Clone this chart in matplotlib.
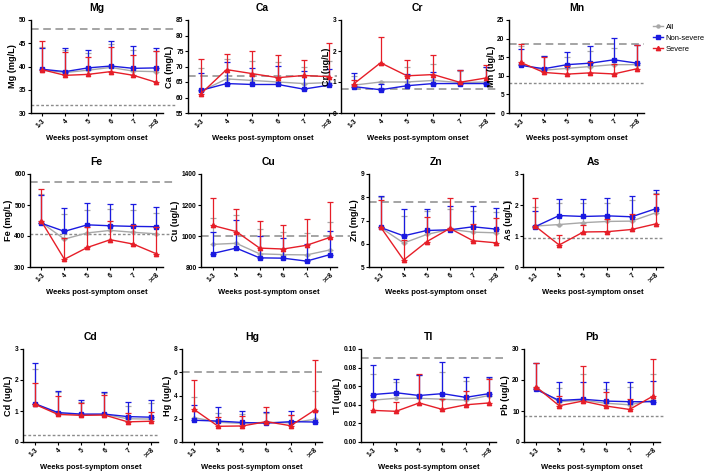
import numpy as np
import matplotlib
matplotlib.use("Agg")
import matplotlib.pyplot as plt
from matplotlib.lines import Line2D

plt.rcParams['font.family'] = ['Liberation Sans', 'DejaVu Sans']

weeks = ["1-3", "4", "5", "6", "7", ">=8"]

# ---- data (mean and upper error-bar end) ----
mg_all = [39.3, 38.7, 39.2, 39.8, 39.0, 38.9]
mg_all_top = [44.3, 43.5, 43.0, 44.9, 43.6, 43.4]
mg_ns = [39.4, 38.9, 39.7, 40.1, 39.6, 39.7]
mg_ns_top = [43.9, 43.9, 43.6, 45.4, 44.4, 43.9]
mg_sv = [39.3, 38.1, 38.3, 38.9, 38.1, 36.6]
mg_sv_top = [45.4, 43.1, 42.0, 44.3, 42.4, 43.4]

ca_all = [62.0, 66.0, 65.5, 65.0, 64.5, 64.8]
ca_all_top = [69.4, 72.5, 71.8, 71.5, 70.0, 71.9]
ca_ns = [62.3, 64.5, 64.2, 64.2, 62.7, 64.0]
ca_ns_top = [68.0, 71.5, 69.5, 70.2, 68.6, 69.2]
ca_sv = [61.2, 69.0, 67.7, 66.4, 67.1, 66.7]
ca_sv_top = [72.3, 73.9, 75.0, 73.7, 72.1, 77.7]

cr_all = [0.90, 1.00, 1.00, 1.05, 0.98, 1.00]
cr_all_top = [1.20, 1.00, 1.50, 1.57, 1.37, 1.50]
cr_ns = [0.85, 0.75, 0.88, 0.95, 0.95, 0.95]
cr_ns_top = [1.30, 0.95, 1.27, 1.32, 1.38, 1.50]
cr_sv = [0.95, 1.62, 1.20, 1.24, 0.99, 1.13]
cr_sv_top = [1.05, 2.46, 1.71, 1.87, 1.38, 1.54]

mn_all = [13.2, 11.5, 12.0, 12.5, 13.0, 13.0]
mn_all_top = [18.0, 15.3, 15.0, 16.8, 17.5, 18.2]
mn_ns = [12.8, 11.9, 13.0, 13.4, 14.3, 13.4]
mn_ns_top = [17.3, 15.45, 16.35, 18.1, 20.05, 18.25]
mn_sv = [13.6, 10.9, 10.45, 10.8, 10.5, 11.9]
mn_sv_top = [18.5, 15.0, 12.6, 13.8, 13.3, 18.2]

fe_all = [443, 390, 410, 418, 412, 407]
fe_all_top = [535, 472, 484, 487, 485, 475]
fe_ns = [441, 415, 436, 433, 431, 430]
fe_ns_top = [533, 490, 505, 503, 503, 493]
fe_sv = [447, 325, 363, 388, 374, 343]
fe_sv_top = [553, 392, 430, 447, 435, 428]

cu_all = [946, 953, 885, 880, 878, 910]
cu_all_top = [1118, 1133, 1043, 1023, 1022, 1090]
cu_ns = [887, 922, 859, 857, 838, 880]
cu_ns_top = [1026, 1106, 1000, 990, 950, 1033]
cu_sv = [1068, 1029, 922, 916, 940, 991]
cu_sv_top = [1247, 1177, 1097, 1071, 1110, 1218]

zn_all = [6.70, 6.03, 6.40, 6.62, 6.50, 6.47]
zn_all_top = [8.00, 7.20, 7.40, 7.50, 7.42, 7.35]
zn_ns = [6.70, 6.34, 6.57, 6.60, 6.73, 6.63]
zn_ns_top = [8.06, 7.50, 7.50, 7.61, 7.62, 7.52]
zn_sv = [6.72, 5.30, 6.09, 6.66, 6.13, 6.04]
zn_sv_top = [7.90, 6.17, 7.17, 7.96, 6.86, 7.09]

as_all = [1.32, 1.37, 1.43, 1.47, 1.48, 1.75]
as_all_top = [1.95, 2.05, 2.05, 2.08, 2.15, 2.40]
as_ns = [1.30, 1.66, 1.63, 1.65, 1.62, 1.88]
as_ns_top = [1.81, 2.19, 2.20, 2.23, 2.29, 2.48]
as_sv = [1.32, 0.71, 1.13, 1.14, 1.21, 1.39]
as_sv_top = [2.21, 1.02, 1.35, 1.55, 1.70, 2.34]

cd_all = [1.23, 0.92, 0.88, 0.89, 0.75, 0.74]
cd_all_top = [2.35, 1.60, 1.30, 1.57, 1.15, 1.25]
cd_ns = [1.24, 0.95, 0.90, 0.90, 0.82, 0.80]
cd_ns_top = [2.56, 1.65, 1.36, 1.62, 1.28, 1.34]
cd_sv = [1.22, 0.89, 0.86, 0.87, 0.65, 0.67]
cd_sv_top = [1.90, 1.50, 1.27, 1.51, 0.92, 0.96]

hg_all = [2.10, 1.70, 1.60, 1.70, 1.65, 1.95]
hg_all_top = [3.90, 2.50, 2.40, 2.50, 2.35, 4.35]
hg_ns = [1.87, 1.80, 1.68, 1.62, 1.75, 1.72]
hg_ns_top = [3.18, 2.97, 2.68, 2.60, 2.65, 2.65]
hg_sv = [2.80, 1.35, 1.38, 1.75, 1.40, 2.75]
hg_sv_top = [5.33, 2.17, 2.25, 2.98, 2.30, 7.07]

tl_all = [0.045, 0.047, 0.047, 0.046, 0.045, 0.050]
tl_all_top = [0.073, 0.064, 0.072, 0.075, 0.066, 0.069]
tl_ns = [0.051, 0.053, 0.050, 0.052, 0.048, 0.052]
tl_ns_top = [0.083, 0.068, 0.072, 0.086, 0.070, 0.070]
tl_sv = [0.034, 0.033, 0.042, 0.035, 0.040, 0.042]
tl_sv_top = [0.045, 0.043, 0.073, 0.046, 0.055, 0.068]

pb_all = [17.5, 13.0, 13.5, 12.5, 12.0, 13.5]
pb_all_top = [25.5, 17.3, 21.8, 17.0, 17.7, 21.8]
pb_ns = [17.0, 13.4, 13.8, 13.2, 13.0, 13.0]
pb_ns_top = [25.5, 19.4, 19.3, 19.2, 19.2, 19.6]
pb_sv = [17.9, 11.7, 13.2, 11.6, 10.5, 14.8]
pb_sv_top = [25.5, 15.0, 24.4, 16.0, 13.8, 26.9]

# element name, ylabel, ylim, yticks, upper ref, lower ref
names = ["Mg", "Ca", "Cr", "Mn", "Fe", "Cu", "Zn", "As", "Cd", "Hg", "Tl", "Pb"]
ylabels = ["Mg (mg/L)", "Ca (mg/L)", "Cr (ug/L)", "Mn (ug/L)", "Fe (mg/L)", "Cu (ug/L)",
           "Zn (mg/L)", "As (ug/L)", "Cd (ug/L)", "Hg (ug/L)", "Tl (ug/L)", "Pb (ug/L)"]
ylims = [(30, 50), (55, 85), (0, 3), (0, 25), (300, 600), (800, 1400), (5, 9), (0, 3),
         (0, 3), (0, 8), (0, 0.10), (0, 30)]
yticks = [[30, 35, 40, 45, 50], [55, 60, 65, 70, 75, 80, 85], [0, 1, 2, 3], [0, 5, 10, 15, 20, 25],
          [300, 400, 500, 600], [800, 1000, 1200, 1400], [5, 6, 7, 8, 9], [0, 1, 2, 3],
          [0, 1, 2, 3], [0, 2, 4, 6, 8], [0, 0.02, 0.04, 0.06, 0.08, 0.10], [0, 10, 20, 30]]
ref_upper = [48, 66.8, 0.77, 18.5, 575, 1000, 7.8, None, None, 6.0, 0.09, None]
ref_lower = [31.8, None, None, 8.0, 407, None, None, 0.93, 0.22, None, None, 8.5]

series = [
    (mg_all, mg_all_top, mg_ns, mg_ns_top, mg_sv, mg_sv_top),
    (ca_all, ca_all_top, ca_ns, ca_ns_top, ca_sv, ca_sv_top),
    (cr_all, cr_all_top, cr_ns, cr_ns_top, cr_sv, cr_sv_top),
    (mn_all, mn_all_top, mn_ns, mn_ns_top, mn_sv, mn_sv_top),
    (fe_all, fe_all_top, fe_ns, fe_ns_top, fe_sv, fe_sv_top),
    (cu_all, cu_all_top, cu_ns, cu_ns_top, cu_sv, cu_sv_top),
    (zn_all, zn_all_top, zn_ns, zn_ns_top, zn_sv, zn_sv_top),
    (as_all, as_all_top, as_ns, as_ns_top, as_sv, as_sv_top),
    (cd_all, cd_all_top, cd_ns, cd_ns_top, cd_sv, cd_sv_top),
    (hg_all, hg_all_top, hg_ns, hg_ns_top, hg_sv, hg_sv_top),
    (tl_all, tl_all_top, tl_ns, tl_ns_top, tl_sv, tl_sv_top),
    (pb_all, pb_all_top, pb_ns, pb_ns_top, pb_sv, pb_sv_top),
]

# ---- layout (pixel boxes: left, right, top, bottom) ----
W, H = 709, 472
boxes = [
    (31, 163, 20, 113), (188, 337, 20, 113), (341, 494, 20, 113), (509, 644, 20, 113),
    (30, 163, 174, 267), (201, 337, 174, 267), (369, 503, 174, 267), (523, 663, 174, 267),
    (23, 158, 349, 442), (182, 322, 349, 442), (361, 496, 349, 442), (524, 660, 349, 442),
]
# how far (px) reference lines run past the right end of the x axis
ref_ext = [12, 0, 3, 0, 12, 13, 12, 0, 0, 0, 7, 3]

C_ALL = '#a8a8a8'
C_NS = '#1a1ae0'
C_SV = '#e61e28'
C_REF = '#8c8c8c'

fig = plt.figure(figsize=(W / 100, H / 100), dpi=100)
x = np.arange(len(weeks))

for i, name in enumerate(names):
    l, r, t, b = boxes[i]
    ax = fig.add_axes([l / W, 1 - b / H, (r - l) / W, (b - t) / H])
    ax.patch.set_alpha(0)
    a, at, ns, nst, sv, svt = [np.array(v, dtype=float) for v in series[i]]
    xend = 1 + ref_ext[i] / (r - l)

    if ref_upper[i] is not None:
        ax.plot([0, xend], [ref_upper[i]] * 2, transform=ax.get_yaxis_transform(),
                color=C_REF, lw=1.1, ls=(0, (5, 3)), zorder=1, clip_on=False)
    if ref_lower[i] is not None:
        ax.plot([0, xend], [ref_lower[i]] * 2, transform=ax.get_yaxis_transform(),
                color=C_REF, lw=1.0, ls=(0, (2, 1.5)), zorder=1, clip_on=False)

    for mean, top, col, mk, ms, z in [(a, at, C_ALL, 'o', 2.2, 3),
                                      (ns, nst, C_NS, 's', 3.4, 4),
                                      (sv, svt, C_SV, '^', 3.1, 5)]:
        err = np.vstack([np.zeros_like(mean), top - mean])
        ax.errorbar(x, mean, yerr=err, color=col, marker=mk, ms=ms, lw=1.0,
                    elinewidth=0.9, capsize=2.2, capthick=0.9, zorder=z, clip_on=False)

    ax.set_xlim(-0.5, 5.3)
    ax.set_ylim(*ylims[i])
    ax.set_yticks(yticks[i])
    if name == "Tl":
        ax.set_yticklabels([f"{v:.2f}" for v in yticks[i]])
    ax.set_xticks(x)
    ax.set_xticklabels(weeks, rotation=45, ha='right', rotation_mode='anchor')
    for s in ['top', 'right']:
        ax.spines[s].set_visible(False)
    for s in ['left', 'bottom']:
        ax.spines[s].set_linewidth(1.0)
    ax.tick_params(axis='both', labelsize=4.8, length=2.2, width=0.8, pad=1)
    for lab in ax.get_xticklabels() + ax.get_yticklabels():
        lab.set_fontweight('bold')
    ax.set_title(name, fontsize=7.5, fontweight='bold', pad=6.5)
    ax.set_ylabel(ylabels[i], fontsize=6.6, fontweight='bold', labelpad=1.2)
    ax.set_xlabel("Weeks post-symptom onset", fontsize=5.5, fontweight='bold', labelpad=3)

handles = [
    Line2D([], [], color=C_ALL, marker='o', ms=2.2, lw=1.0),
    Line2D([], [], color=C_NS, marker='s', ms=3.4, lw=1.0),
    Line2D([], [], color=C_SV, marker='^', ms=3.1, lw=1.0),
]
fig.legend(handles, ["All", "Non-severe", "Severe"], loc='upper left',
           bbox_to_anchor=(649 / W, 1 - 20 / H), frameon=False, fontsize=5.4,
           handlelength=1.3, handletextpad=0.45, labelspacing=0.5, borderpad=0)

fig.savefig("out.png", dpi=100)
